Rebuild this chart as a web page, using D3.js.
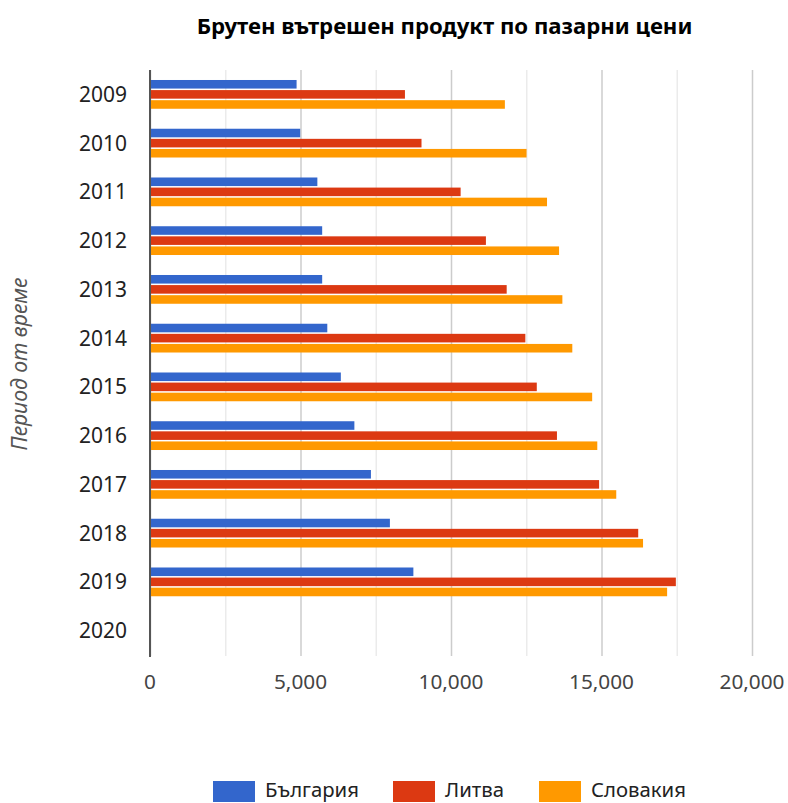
<!DOCTYPE html>
<html>
<head>
<meta charset="utf-8">
<script src="https://cdn.jsdelivr.net/npm/d3@7/dist/d3.min.js"></script>
<style>
  html, body { margin: 0; padding: 0; background: #fff; }
  svg { display: block; }
  text { font-family: "Noto Sans", "Open Sans", sans-serif; }
</style>
</head>
<body>
<svg id="chart" width="788" height="803"></svg>
<script>
const title = "Брутен вътрешен продукт по пазарни цени";
const yAxisTitle = "Период от време";
const years = ["2009","2010","2011","2012","2013","2014","2015","2016","2017","2018","2019","2020"];
const seriesNames = ["България", "Литва", "Словакия"];
const bulgaria = [4870, 4990, 5560, 5720, 5720, 5890, 6340, 6790, 7340, 7970, 8750, null];
const lithuania = [8470, 9020, 10320, 11160, 11850, 12470, 12850, 13520, 14920, 16220, 17470, null];
const slovakia = [11790, 12510, 13190, 13590, 13700, 14030, 14690, 14860, 15490, 16380, 17180, null];
const colors = ["#3366cc", "#dc3912", "#ff9900"];
const xTicks = [0, 5000, 10000, 15000, 20000];
const xGrid = [0, 2500, 5000, 7500, 10000, 12500, 15000, 17500, 20000];

const series = [bulgaria, lithuania, slovakia];
const svg = d3.select("#chart");

const plot = { left: 150, right: 752, top: 70, bottom: 655 };

const x = d3.scaleLinear().domain([0, 20000]).range([plot.left, plot.right]);
const y = d3.scaleBand().domain(years).range([plot.top, plot.bottom]).paddingInner(0.41).paddingOuter(0.205);
const ySub = d3.scaleBand().domain(d3.range(series.length)).range([0, y.bandwidth()]).paddingInner(0.15);

function fit(sel, refText, targetWidth, baseSize) {
  const t = svg.append("text").style("font-size", baseSize + "px").attr("font-weight", sel.fw || null).attr("font-style", sel.fs || null).text(refText);
  const w = t.node().getComputedTextLength();
  t.remove();
  return baseSize * targetWidth / w;
}

// gridlines
svg.append("g").selectAll("line").data(xGrid).join("line")
  .attr("x1", d => x(d) + 0.5).attr("x2", d => x(d) + 0.5)
  .attr("y1", plot.top).attr("y2", plot.bottom + 1)
  .attr("stroke", d => d % 5000 === 0 ? "#cccccc" : "#ebebeb")
  .attr("stroke-width", 1.5);

// bars
const rows = years.map((yr, i) => ({ yr, vals: series.map(s => s[i]) }));
const g = svg.append("g").selectAll("g").data(rows).join("g")
  .attr("transform", d => `translate(0,${y(d.yr)})`);
g.selectAll("rect").data(d => d.vals.map((v, k) => ({ v, k })).filter(o => o.v != null)).join("rect")
  .attr("x", x(0))
  .attr("y", o => ySub(o.k))
  .attr("width", o => x(o.v) - x(0))
  .attr("height", ySub.bandwidth())
  .attr("fill", o => colors[o.k]);

// zero axis line
svg.append("line")
  .attr("x1", x(0)).attr("x2", x(0))
  .attr("y1", plot.top).attr("y2", plot.bottom + 2)
  .attr("stroke", "#555").attr("stroke-width", 2);

// title
const titleSize = fit({ fw: "bold" }, title, 496, 20);
svg.append("text").attr("x", 444.5).attr("y", 34)
  .attr("text-anchor", "middle").attr("font-weight", "bold")
  .style("font-size", titleSize + "px").attr("fill", "#000").text(title);

// y labels
const ySize = fit({}, "2009", 48, 18);
svg.append("g").selectAll("text").data(years).join("text")
  .attr("x", 127).attr("y", d => y(d) + y.bandwidth() / 2 + ySize * 0.36)
  .attr("text-anchor", "end").style("font-size", ySize + "px").attr("fill", "#222").text(d => d);

// x labels
const xSize = fit({}, "20,000", 65, 18);
const fmt = d3.format(",");
svg.append("g").selectAll("text").data(xTicks).join("text")
  .attr("x", d => x(d)).attr("y", 689)
  .attr("text-anchor", "middle").style("font-size", xSize + "px").attr("fill", "#444").text(d => fmt(d));

// y axis title
const atSize = fit({ fs: "italic" }, yAxisTitle, 173, 18);
svg.append("text")
  .attr("transform", `translate(27,364) rotate(-90)`)
  .attr("text-anchor", "middle").attr("font-style", "italic")
  .style("font-size", atSize + "px").attr("fill", "#555").text(yAxisTitle);

// legend
const legSize = fit({}, "България", 94, 18);
const legendX = [213, 393, 539];
const lg = svg.append("g").selectAll("g").data(seriesNames).join("g")
  .attr("transform", (d, i) => `translate(${legendX[i]},781)`);
lg.append("rect").attr("width", 42).attr("height", 21).attr("fill", (d, i) => colors[i]);
lg.append("text").attr("x", 52).attr("y", 16).style("font-size", legSize + "px").attr("fill", "#222").text(d => d);
</script>
</body>
</html>
